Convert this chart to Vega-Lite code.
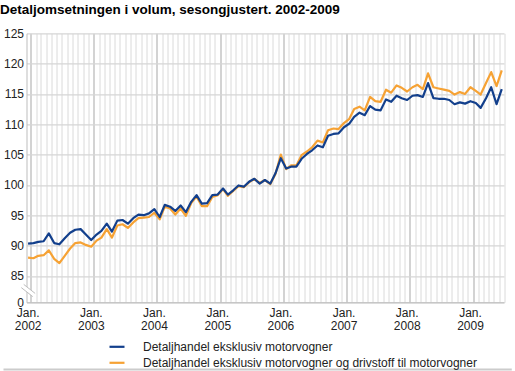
{
  "$schema": "https://vega.github.io/schema/vega-lite/v6.json",
  "width": 477.5,
  "height": 269,
  "autosize": "none",
  "padding": {"left": 26.5, "top": 33.3, "right": 11, "bottom": 68.7},
  "background": "white",
  "config": {"view": {"stroke": null}, "axis": {"labelOverlap": false}},
  "title": {"text": "Detaljomsetningen i volum, sesongjustert. 2002-2009", "anchor": "start", "frame": "group", "dx": -26.5, "font": "Liberation Sans", "fontSize": 13.5, "fontWeight": "bold", "color": "#000000", "baseline": "alphabetic", "offset": 0},
  "resolve": {"axis": {"x": "independent", "y": "independent"}},
  "datasets": {
    "main": [
      {"d":"2002-01-01","b":90.3,"o":88.0},{"d":"2002-02-01","b":90.4,"o":87.9},{"d":"2002-03-01","b":90.6,"o":88.3},{"d":"2002-04-01","b":90.7,"o":88.4},{"d":"2002-05-01","b":92.0,"o":89.2},{"d":"2002-06-01","b":90.4,"o":87.8},{"d":"2002-07-01","b":90.2,"o":87.1},{"d":"2002-08-01","b":91.2,"o":88.3},{"d":"2002-09-01","b":92.1,"o":89.5},{"d":"2002-10-01","b":92.6,"o":90.4},{"d":"2002-11-01","b":92.7,"o":90.5},{"d":"2002-12-01","b":91.8,"o":90.1},
      {"d":"2003-01-01","b":90.9,"o":89.8},{"d":"2003-02-01","b":91.8,"o":90.8},{"d":"2003-03-01","b":92.4,"o":91.3},{"d":"2003-04-01","b":93.6,"o":92.7},{"d":"2003-05-01","b":92.3,"o":91.3},{"d":"2003-06-01","b":94.1,"o":93.3},{"d":"2003-07-01","b":94.2,"o":93.5},{"d":"2003-08-01","b":93.6,"o":92.9},{"d":"2003-09-01","b":94.5,"o":93.8},{"d":"2003-10-01","b":95.1,"o":94.5},{"d":"2003-11-01","b":95.0,"o":94.6},{"d":"2003-12-01","b":95.3,"o":94.7},
      {"d":"2004-01-01","b":96.0,"o":95.4},{"d":"2004-02-01","b":94.7,"o":94.3},{"d":"2004-03-01","b":96.7,"o":96.4},{"d":"2004-04-01","b":96.4,"o":96.1},{"d":"2004-05-01","b":95.7,"o":95.1},{"d":"2004-06-01","b":96.6,"o":96.1},{"d":"2004-07-01","b":95.5,"o":94.9},{"d":"2004-08-01","b":97.2,"o":97.0},{"d":"2004-09-01","b":98.3,"o":98.1},{"d":"2004-10-01","b":96.9,"o":96.5},{"d":"2004-11-01","b":97.0,"o":96.5},{"d":"2004-12-01","b":98.3,"o":98.0},
      {"d":"2005-01-01","b":98.4,"o":98.3},{"d":"2005-02-01","b":99.4,"o":99.3},{"d":"2005-03-01","b":98.4,"o":98.2},{"d":"2005-04-01","b":99.1,"o":99.0},{"d":"2005-05-01","b":99.9,"o":99.8},{"d":"2005-06-01","b":99.7,"o":99.6},{"d":"2005-07-01","b":100.5,"o":100.4},{"d":"2005-08-01","b":101.0,"o":101.0},{"d":"2005-09-01","b":100.2,"o":100.3},{"d":"2005-10-01","b":100.8,"o":100.8},{"d":"2005-11-01","b":100.2,"o":100.1},{"d":"2005-12-01","b":101.9,"o":101.8},
      {"d":"2006-01-01","b":104.4,"o":105.0},{"d":"2006-02-01","b":102.7,"o":102.6},{"d":"2006-03-01","b":103.0,"o":103.2},{"d":"2006-04-01","b":103.0,"o":103.2},{"d":"2006-05-01","b":104.3,"o":104.9},{"d":"2006-06-01","b":105.1,"o":105.5},{"d":"2006-07-01","b":105.7,"o":106.2},{"d":"2006-08-01","b":106.5,"o":107.3},{"d":"2006-09-01","b":106.2,"o":107.0},{"d":"2006-10-01","b":108.1,"o":109.0},{"d":"2006-11-01","b":108.4,"o":109.3},{"d":"2006-12-01","b":108.5,"o":109.2},
      {"d":"2007-01-01","b":109.5,"o":110.2},{"d":"2007-02-01","b":110.1,"o":110.9},{"d":"2007-03-01","b":111.2,"o":112.5},{"d":"2007-04-01","b":111.9,"o":112.9},{"d":"2007-05-01","b":111.5,"o":112.3},{"d":"2007-06-01","b":113.0,"o":114.5},{"d":"2007-07-01","b":112.4,"o":113.8},{"d":"2007-08-01","b":112.3,"o":113.7},{"d":"2007-09-01","b":114.1,"o":115.7},{"d":"2007-10-01","b":113.7,"o":115.2},{"d":"2007-11-01","b":114.7,"o":116.4},{"d":"2007-12-01","b":114.3,"o":116.0},
      {"d":"2008-01-01","b":114.0,"o":115.4},{"d":"2008-02-01","b":114.7,"o":116.1},{"d":"2008-03-01","b":114.8,"o":116.5},{"d":"2008-04-01","b":114.5,"o":115.8},{"d":"2008-05-01","b":116.8,"o":118.4},{"d":"2008-06-01","b":114.3,"o":116.1},{"d":"2008-07-01","b":114.2,"o":115.9},{"d":"2008-08-01","b":114.2,"o":115.7},{"d":"2008-09-01","b":114.0,"o":115.5},{"d":"2008-10-01","b":113.3,"o":114.9},{"d":"2008-11-01","b":113.6,"o":115.3},{"d":"2008-12-01","b":113.4,"o":115.0},
      {"d":"2009-01-01","b":113.8,"o":116.1},{"d":"2009-02-01","b":113.5,"o":115.5},{"d":"2009-03-01","b":112.7,"o":114.9},{"d":"2009-04-01","b":114.3,"o":116.8},{"d":"2009-05-01","b":116.1,"o":118.6},{"d":"2009-06-01","b":113.3,"o":116.3},{"d":"2009-07-01","b":115.8,"o":118.9}
    ],
    "one": [{}]
  },
  "layer": [
    {
      "data": {"name": "main"},
      "transform": [{"fold": ["o", "b"], "as": ["serie", "v"]}, {"filter": "datum.serie == 'o'"}],
      "mark": {"type": "line", "strokeWidth": 2.2, "strokeJoin": "round"},
      "encoding": {
        "x": {"field": "d", "type": "temporal",
          "scale": {"type": "utc", "domain": [{"year": 2001, "month": 12, "date": 23, "utc": true}, {"year": 2009, "month": 7, "date": 14, "utc": true}]},
          "axis": {"title": null, "tickCount": {"interval": "month", "step": 1}, "tickOffset": 2.6, "labelOffset": -3, "grid": true,
            "gridColor": {"condition": {"test": "utcmonth(datum.value) == 0", "value": "#c4c4c4"}, "value": "#dadada"},
            "gridWidth": {"condition": {"test": "utcmonth(datum.value) == 0", "value": 1.5}, "value": 1},
            "ticks": false, "domainColor": "#bdbdbd", "labelOverlap": false, "labelFlush": false, "labelBound": false,
            "labelExpr": "utcmonth(datum.value) == 0 ? ['Jan.', utcFormat(datum.value, '%Y')] : ''",
            "labelFont": "Liberation Sans", "labelFontSize": 12, "labelColor": "#222222", "labelPadding": 5.5, "labelLineHeight": 12.5}},
        "y": {"field": "v", "type": "quantitative",
          "scale": {"domain": [0, 85, 125], "range": [269, 242.5, 0], "nice": false, "zero": false},
          "axis": {"title": null, "values": [0, 85, 90, 95, 100, 105, 110, 115, 120, 125], "grid": true, "gridColor": "#d6d6d6", "gridWidth": 1.3,
            "ticks": false, "domainColor": "#bdbdbd", "labelOverlap": false, "labelBound": false, "labelFlush": false, "labelFont": "Liberation Sans", "labelFontSize": 12, "labelColor": "#222222", "labelPadding": 3}},
        "color": {"field": "serie", "type": "nominal",
          "scale": {"domain": ["b", "o"], "range": ["#123f8c", "#f6a234"]},
          "legend": {"orient": "none", "legendX": 81.5, "legendY": 304.5, "title": null, "symbolType": "stroke", "symbolSize": 225, "symbolStrokeWidth": 2.2,
            "labelFont": "Liberation Sans", "labelFontSize": 12, "labelColor": "#222222", "labelOffset": 17, "rowPadding": 1, "padding": 0, "labelLimit": 0,
            "labelExpr": "datum.value == 'b' ? 'Detaljhandel eksklusiv motorvogner' : 'Detaljhandel eksklusiv motorvogner og drivstoff til motorvogner'"}}
      }
    },
    {
      "data": {"name": "main"},
      "transform": [{"fold": ["o", "b"], "as": ["serie", "v"]}, {"filter": "datum.serie == 'b'"}],
      "mark": {"type": "line", "strokeWidth": 2.2, "strokeJoin": "round"},
      "encoding": {
        "x": {"field": "d", "type": "temporal", "axis": null},
        "y": {"field": "v", "type": "quantitative", "axis": null},
        "color": {"field": "serie", "type": "nominal"}
      }
    },
    {
      "data": {"name": "one"},
      "mark": {"type": "rule", "stroke": "white", "strokeWidth": 4, "strokeCap": "butt"},
      "encoding": {
        "x": {"datum": {"year": 2001, "month": 11, "date": 30, "utc": true}, "type": "temporal", "axis": null},
        "x2": {"datum": {"year": 2002, "month": 2, "date": 4, "utc": true}},
        "y": {"datum": 52.3, "type": "quantitative", "axis": null},
        "y2": {"datum": 23.4}
      }
    },
    {
      "data": {"name": "one"},
      "mark": {"type": "rule", "stroke": "#bdbdbd", "strokeWidth": 1},
      "encoding": {
        "x": {"datum": {"year": 2001, "month": 12, "date": 7, "utc": true}, "type": "temporal", "axis": null},
        "x2": {"datum": {"year": 2002, "month": 2, "date": 11, "utc": true}},
        "y": {"datum": 57.4, "type": "quantitative", "axis": null},
        "y2": {"datum": 28.5}
      }
    },
    {
      "data": {"name": "one"},
      "mark": {"type": "rule", "stroke": "#bdbdbd", "strokeWidth": 1},
      "encoding": {
        "x": {"datum": {"year": 2001, "month": 11, "date": 23, "utc": true}, "type": "temporal", "axis": null},
        "x2": {"datum": {"year": 2002, "month": 1, "date": 28, "utc": true}},
        "y": {"datum": 47.1, "type": "quantitative", "axis": null},
        "y2": {"datum": 18.3}
      }
    },
    {
      "data": {"name": "one"},
      "mark": {"type": "rule", "stroke": "#cccccc", "strokeWidth": 2},
      "encoding": {
        "x": {"datum": {"year": 2001, "month": 8, "date": 12, "utc": true}, "type": "temporal", "axis": null},
        "x2": {"datum": {"year": 2009, "month": 8, "date": 28, "utc": true}},
        "y": {"datum": -215.5, "type": "quantitative", "axis": null}
      }
    }
  ]
}
